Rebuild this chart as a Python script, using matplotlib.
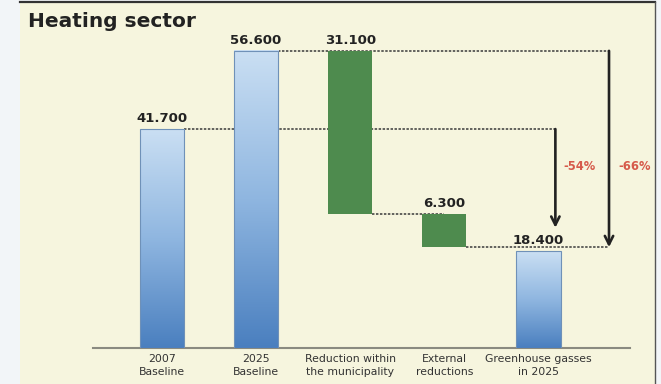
import numpy as np
import matplotlib.pyplot as plt
from matplotlib.colors import LinearSegmentedColormap
from matplotlib.patches import Rectangle

# Heating sector emissions: baselines, reductions and the remaining level
categories = ['2007\nBaseline', '2025\nBaseline', 'Reduction within\nthe municipality',
              'External\nreductions', 'Greenhouse gasses\nin 2025']
values = [41.7, 56.6, 31.1, 6.3, 18.4]
kinds = ['total', 'total', 'reduction', 'reduction', 'total']

BLUE_DARK = '#4A7FBF'
BLUE_LIGHT = '#CADFF3'
GREEN = '#4E8B4E'
PANEL = '#F6F5DE'
TEXT = '#222222'
DOT = (0, (1.6, 1.0))
BAR_W = 0.47

# waterfall bottoms: reductions hang from the running level
bottoms = []
level = 0.0
for v, k in zip(values, kinds):
    if k == 'total':
        bottoms.append(0.0)
        level = v
    else:
        level -= v
        bottoms.append(level)
remaining = bottoms[3]

fig = plt.figure(figsize=(6.61, 3.84), dpi=100, facecolor='#F2F5F8')
fig.patches.append(Rectangle((20 / 661, 0), 635 / 661, 382.5 / 384, transform=fig.transFigure,
                             facecolor=PANEL, edgecolor='none', zorder=-10))
fig.lines.append(plt.Line2D([20 / 661, 655 / 661], [382.5 / 384] * 2, transform=fig.transFigure,
                            color='#333333', lw=1.6, zorder=-9))
fig.lines.append(plt.Line2D([655 / 661] * 2, [0, 382.5 / 384], transform=fig.transFigure,
                            color='#555555', lw=1.0, zorder=-9))

ax = fig.add_axes([93 / 661, 36 / 384, 537 / 661, 64 * 5.25 / 384])
ax.set_facecolor('none')
x = np.arange(len(values))

blue_cmap = LinearSegmentedColormap.from_list('bar_blue', [BLUE_DARK, '#8FB6E0', BLUE_LIGHT])
grad = np.linspace(0, 1, 256).reshape(-1, 1)

for xi, v, b, k in zip(x, values, bottoms, kinds):
    if k == 'total':
        ax.imshow(grad, extent=[xi - BAR_W / 2, xi + BAR_W / 2, b, b + v], origin='lower',
                  cmap=blue_cmap, aspect='auto', interpolation='bilinear', zorder=3)
        ax.add_patch(Rectangle((xi - BAR_W / 2, b), BAR_W, v, fill=False,
                               edgecolor='#6F91B8', lw=0.8, zorder=4))
    else:
        ax.bar(xi, v, bottom=b, width=BAR_W, color=GREEN, zorder=3)
    ax.annotate(f'{v:.3f}', (xi, b + v), xytext=(0, 3), textcoords='offset points',
                ha='center', va='bottom', fontsize=9.5, fontweight='bold', color=TEXT)

# arrows showing the overall reduction against each baseline
arrow_x = [4.18, 4.75]
arrow_end = [22.9, remaining]
pct_x = [4.44, 5.02]
pct_y = 34.5

# dotted connectors between bar levels
conn = [
    (values[0], x[0], arrow_x[0]),
    (values[1], x[1], arrow_x[1]),
    (bottoms[2], x[2], x[3]),
    (remaining, x[3], arrow_x[1]),
]
for y, x0, x1 in conn:
    ax.plot([x0 + BAR_W / 2, x1], [y, y], color='#3A3A3A', lw=1.1, ls=DOT, zorder=1)

for ax_x, start, end, px in zip(arrow_x, values[:2], arrow_end, pct_x):
    ax.annotate('', xy=(ax_x, end), xytext=(ax_x, start),
                arrowprops=dict(arrowstyle='->', lw=1.9, color='#222222',
                                mutation_scale=15, shrinkA=0, shrinkB=0), zorder=5)
    pct = round((remaining / start - 1) * 100)
    ax.text(px, pct_y, f'{pct}%', ha='center', va='center', fontsize=8.3,
            fontweight='bold', color='#D65A4A', clip_on=False)

ax.set_xlim(-0.733, 4.973)
ax.set_ylim(0, 64)
ax.set_xticks(x)
ax.set_xticklabels(categories, fontsize=7.8, color='#333333', linespacing=1.4)
ax.tick_params(axis='x', length=0, pad=4)
ax.set_yticks([])
for side in ['top', 'left', 'right']:
    ax.spines[side].set_visible(False)
ax.spines['bottom'].set_color('#8A8A80')
ax.spines['bottom'].set_linewidth(1.5)

fig.text(28 / 661, (384 - 27) / 384, 'Heating sector', fontsize=14.5, fontweight='bold',
         color=TEXT, ha='left', va='baseline')

fig.savefig('out.png', dpi=100, facecolor=fig.get_facecolor())
